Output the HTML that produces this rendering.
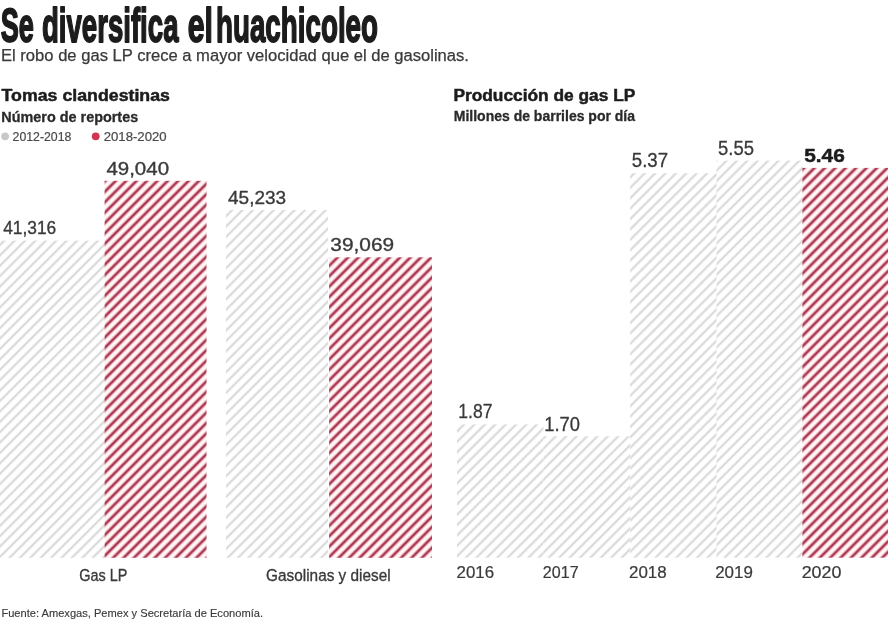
<!DOCTYPE html>
<html lang="es">
<head>
<meta charset="utf-8">
<title>Se diversifica el huachicoleo</title>
<style>
html,body{margin:0;padding:0;background:#fff;}
body{width:888px;height:620px;overflow:hidden;}
svg{display:block;}
text{font-family:"Liberation Sans", sans-serif;}
</style>
</head>
<body>
<svg width="888" height="620" viewBox="0 0 888 620">
<defs>
<pattern id="p0" patternUnits="userSpaceOnUse" width="7.3539" height="10" patternTransform="rotate(45) translate(0.3536 0)"><rect x="2.18" width="3.00" height="10" fill="#f1f1f1"/><rect x="2.95" width="1.45" height="10" fill="#d4d4d4"/></pattern>
<pattern id="p1" patternUnits="userSpaceOnUse" width="7.3539" height="10" patternTransform="rotate(45) translate(0.1414 0)"><rect width="7.3539" height="10" fill="#fff7f8"/><rect x="1.48" width="4.40" height="10" fill="#f6d0d6"/><rect x="2.43" width="2.50" height="10" fill="#aa3850"/></pattern>
<pattern id="p2" patternUnits="userSpaceOnUse" width="7.3539" height="10" patternTransform="rotate(45) translate(0.1414 0)"><rect x="2.18" width="3.00" height="10" fill="#f1f1f1"/><rect x="2.95" width="1.45" height="10" fill="#d4d4d4"/></pattern>
<pattern id="p3" patternUnits="userSpaceOnUse" width="7.3539" height="10" patternTransform="rotate(45) translate(-2.1213 0)"><rect width="7.3539" height="10" fill="#fff7f8"/><rect x="1.48" width="4.40" height="10" fill="#f6d0d6"/><rect x="2.43" width="2.50" height="10" fill="#aa3850"/></pattern>
<pattern id="p4" patternUnits="userSpaceOnUse" width="7.3539" height="10" patternTransform="rotate(45) translate(-0.4950 0)"><rect x="2.18" width="3.00" height="10" fill="#f1f1f1"/><rect x="2.95" width="1.45" height="10" fill="#d4d4d4"/></pattern>
<pattern id="p5" patternUnits="userSpaceOnUse" width="7.3539" height="10" patternTransform="rotate(45) translate(-0.7778 0)"><rect x="2.18" width="3.00" height="10" fill="#f1f1f1"/><rect x="2.95" width="1.45" height="10" fill="#d4d4d4"/></pattern>
<pattern id="p6" patternUnits="userSpaceOnUse" width="7.3539" height="10" patternTransform="rotate(45) translate(1.1314 0)"><rect x="2.18" width="3.00" height="10" fill="#f1f1f1"/><rect x="2.95" width="1.45" height="10" fill="#d4d4d4"/></pattern>
<pattern id="p7" patternUnits="userSpaceOnUse" width="7.3539" height="10" patternTransform="rotate(45) translate(-1.4142 0)"><rect x="2.18" width="3.00" height="10" fill="#f1f1f1"/><rect x="2.95" width="1.45" height="10" fill="#d4d4d4"/></pattern>
<pattern id="p8" patternUnits="userSpaceOnUse" width="7.3539" height="10" patternTransform="rotate(45) translate(-0.2828 0)"><rect width="7.3539" height="10" fill="#fff7f8"/><rect x="1.48" width="4.40" height="10" fill="#f6d0d6"/><rect x="2.43" width="2.50" height="10" fill="#aa3850"/></pattern>
</defs>
<rect width="888" height="620" fill="#fff"/>
<rect x="0.0" y="240.6" width="104.6" height="317.2" fill="url(#p0)"/>
<rect x="104.6" y="180.8" width="101.9" height="377.0" fill="url(#p1)"/>
<rect x="226.0" y="210.0" width="102.1" height="347.8" fill="url(#p2)"/>
<rect x="329.1" y="257.3" width="102.9" height="300.5" fill="url(#p3)"/>
<rect x="457.0" y="424.4" width="86.4" height="133.3" fill="url(#p4)"/>
<rect x="543.4" y="436.2" width="86.8" height="121.5" fill="url(#p5)"/>
<rect x="630.2" y="173.2" width="86.3" height="384.5" fill="url(#p6)"/>
<rect x="716.5" y="160.6" width="85.9" height="397.1" fill="url(#p7)"/>
<rect x="802.4" y="167.9" width="85.6" height="389.8" fill="url(#p8)"/>
<circle cx="5.1" cy="136.3" r="3.9" fill="#c8c8c8"/>
<circle cx="95.7" cy="136.3" r="3.9" fill="#d0364f"/>
<text y="41.6" font-size="48.5" font-weight="700" fill="#1c1c1c" stroke="#1c1c1c" stroke-width="1.80" stroke-linejoin="round"><tspan x="0.77" textLength="33.17" lengthAdjust="spacingAndGlyphs">Se</tspan> <tspan x="41.92" textLength="136.59" lengthAdjust="spacingAndGlyphs">diversifica</tspan> <tspan x="187.84" textLength="25.16" lengthAdjust="spacingAndGlyphs">el</tspan> <tspan x="216.00" textLength="162.02" lengthAdjust="spacingAndGlyphs">huachicoleo</tspan></text>
<text x="1.00" y="61.3" font-size="16.0" font-weight="400" fill="#3a3a3a" textLength="467.96" lengthAdjust="spacingAndGlyphs" stroke="#3a3a3a" stroke-width="0.25" stroke-linejoin="round">El robo de gas LP crece a mayor velocidad que el de gasolinas.</text>
<text x="1.58" y="101.2" font-size="16.8" font-weight="700" fill="#1c1c1c" textLength="168.39" lengthAdjust="spacingAndGlyphs" stroke="#1c1c1c" stroke-width="0.50" stroke-linejoin="round">Tomas clandestinas</text>
<text x="1.31" y="121.5" font-size="14.7" font-weight="700" fill="#2a2a2a" textLength="136.89" lengthAdjust="spacingAndGlyphs" stroke="#2a2a2a" stroke-width="0.30" stroke-linejoin="round">Número de reportes</text>
<text x="12.55" y="140.8" font-size="12.0" font-weight="400" fill="#4a4a4a" textLength="58.85" lengthAdjust="spacingAndGlyphs" stroke="#4a4a4a" stroke-width="0.20" stroke-linejoin="round">2012-2018</text>
<text x="103.73" y="140.8" font-size="12.0" font-weight="400" fill="#4a4a4a" textLength="62.93" lengthAdjust="spacingAndGlyphs" stroke="#4a4a4a" stroke-width="0.20" stroke-linejoin="round">2018-2020</text>
<text x="3.16" y="233.7" font-size="17.8" font-weight="400" fill="#3a3a3a" textLength="53.07" lengthAdjust="spacingAndGlyphs" stroke="#3a3a3a" stroke-width="0.35" stroke-linejoin="round">41,316</text>
<text x="106.40" y="174.7" font-size="17.8" font-weight="400" fill="#3a3a3a" textLength="62.65" lengthAdjust="spacingAndGlyphs" stroke="#3a3a3a" stroke-width="0.35" stroke-linejoin="round">49,040</text>
<text x="228.06" y="203.9" font-size="17.8" font-weight="400" fill="#3a3a3a" textLength="58.05" lengthAdjust="spacingAndGlyphs" stroke="#3a3a3a" stroke-width="0.35" stroke-linejoin="round">45,233</text>
<text x="330.36" y="251.4" font-size="17.8" font-weight="400" fill="#3a3a3a" textLength="63.77" lengthAdjust="spacingAndGlyphs" stroke="#3a3a3a" stroke-width="0.35" stroke-linejoin="round">39,069</text>
<text x="79.32" y="580.6" font-size="16.9" font-weight="400" fill="#3a3a3a" textLength="48.18" lengthAdjust="spacingAndGlyphs" stroke="#3a3a3a" stroke-width="0.35" stroke-linejoin="round">Gas LP</text>
<text x="266.08" y="580.8" font-size="16.9" font-weight="400" fill="#3a3a3a" textLength="124.59" lengthAdjust="spacingAndGlyphs" stroke="#3a3a3a" stroke-width="0.35" stroke-linejoin="round">Gasolinas y diesel</text>
<text x="1.38" y="616.9" font-size="11.6" font-weight="400" fill="#3a3a3a" textLength="261.66" lengthAdjust="spacingAndGlyphs" stroke="#3a3a3a" stroke-width="0.15" stroke-linejoin="round">Fuente: Amexgas, Pemex y Secretaría de Economía.</text>
<text x="453.40" y="101.2" font-size="16.8" font-weight="700" fill="#1c1c1c" textLength="181.91" lengthAdjust="spacingAndGlyphs" stroke="#1c1c1c" stroke-width="0.50" stroke-linejoin="round">Producción de gas LP</text>
<text x="453.77" y="121.2" font-size="14.7" font-weight="700" fill="#2a2a2a" textLength="181.23" lengthAdjust="spacingAndGlyphs" stroke="#2a2a2a" stroke-width="0.30" stroke-linejoin="round">Millones de barriles por día</text>
<text x="458.34" y="418.3" font-size="19.6" font-weight="400" fill="#3a3a3a" textLength="34.13" lengthAdjust="spacingAndGlyphs" stroke="#3a3a3a" stroke-width="0.30" stroke-linejoin="round">1.87</text>
<text x="544.17" y="430.9" font-size="19.6" font-weight="400" fill="#3a3a3a" textLength="35.77" lengthAdjust="spacingAndGlyphs" stroke="#3a3a3a" stroke-width="0.30" stroke-linejoin="round">1.70</text>
<text x="631.79" y="167.3" font-size="19.6" font-weight="400" fill="#3a3a3a" textLength="36.31" lengthAdjust="spacingAndGlyphs" stroke="#3a3a3a" stroke-width="0.30" stroke-linejoin="round">5.37</text>
<text x="718.01" y="154.7" font-size="19.6" font-weight="400" fill="#3a3a3a" textLength="35.96" lengthAdjust="spacingAndGlyphs" stroke="#3a3a3a" stroke-width="0.30" stroke-linejoin="round">5.55</text>
<text x="804.22" y="161.6" font-size="18.3" font-weight="700" fill="#1c1c1c" textLength="40.61" lengthAdjust="spacingAndGlyphs" stroke="#1c1c1c" stroke-width="0.50" stroke-linejoin="round">5.46</text>
<text x="456.49" y="577.6" font-size="16.2" font-weight="400" fill="#3a3a3a" textLength="37.58" lengthAdjust="spacingAndGlyphs" stroke="#3a3a3a" stroke-width="0.20" stroke-linejoin="round">2016</text>
<text x="542.84" y="577.6" font-size="16.2" font-weight="400" fill="#3a3a3a" textLength="35.74" lengthAdjust="spacingAndGlyphs" stroke="#3a3a3a" stroke-width="0.20" stroke-linejoin="round">2017</text>
<text x="629.02" y="577.6" font-size="16.2" font-weight="400" fill="#3a3a3a" textLength="37.68" lengthAdjust="spacingAndGlyphs" stroke="#3a3a3a" stroke-width="0.20" stroke-linejoin="round">2018</text>
<text x="715.20" y="577.6" font-size="16.2" font-weight="400" fill="#3a3a3a" textLength="37.71" lengthAdjust="spacingAndGlyphs" stroke="#3a3a3a" stroke-width="0.20" stroke-linejoin="round">2019</text>
<text x="801.66" y="577.6" font-size="16.2" font-weight="400" fill="#3a3a3a" textLength="39.78" lengthAdjust="spacingAndGlyphs" stroke="#3a3a3a" stroke-width="0.20" stroke-linejoin="round">2020</text>
</svg>
</body>
</html>
